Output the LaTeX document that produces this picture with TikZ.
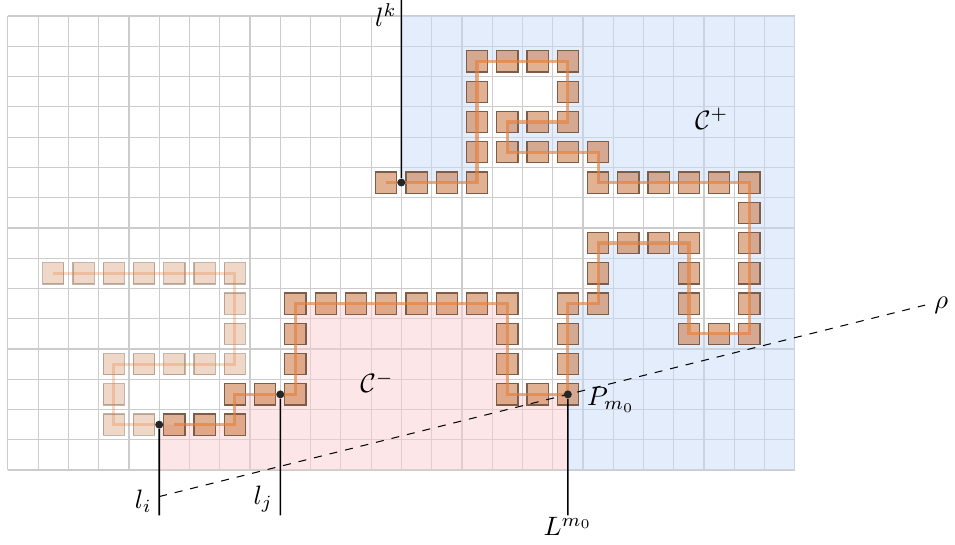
\documentclass[tikz,border=0pt]{standalone}
\usetikzlibrary{positioning, calc}

\definecolor{cellfill}{RGB}{205,125,75}
\definecolor{celledge}{RGB}{125,92,72}
\definecolor{chainline}{RGB}{228,128,60}
\definecolor{minusfill}{RGB}{251,205,209}
\definecolor{plusfill}{RGB}{199,219,249}

\begin{document}
\begin{tikzpicture}[
      scale=0.4,
      gridline/.style={draw=black!20, line width=0.45pt},
      region/.style={fill opacity=0.5},
      cell/.style={draw=celledge, fill=cellfill, fill opacity=0.6, line width=0.45pt},
      ghost/.style={cell, fill opacity=0.3, draw opacity=0.45},
      chain/.style={draw=chainline, line width=1.2pt, opacity=0.65},
      ghostchain/.style={chain, opacity=0.3},
      cut/.style={line width=0.6pt},
      vertex/.style={circle, fill=black!85, inner sep=0pt, minimum size=3pt}
    ]

    \path[use as bounding box] (-0.76,-2.95) rectangle (30.79,15.03);

    \draw[gridline, shift={(-0.5,-0.5)}] (0,0) grid (26,15);

    % the two sides of the cut
    \fill[region, minusfill] (4.5,-0.5) -- (4.5,1) -- (7,1) -- (7,2) -- (9,2) -- (9,5) -- (16,5)
      -- (16,2) -- (18,2) -- (18,-0.5) -- cycle;
    \fill[region, plusfill] (12.5,14.5) -- (12.5,9) -- (15,9) -- (15,13) -- (18,13) -- (18,11)
      -- (16,11) -- (16,10) -- (19,10) -- (19,9) -- (24,9) -- (24,4) -- (22,4) -- (22,7)
      -- (19,7) -- (19,5) -- (18,5) -- (18,-0.5) -- (25.5,-0.5) -- (25.5,14.5) -- cycle;

    % cells
    \foreach \y/\xs in {1/{5,6,7}, 2/{7,8,9,16,17,18}, 3/{9,16,18}, 4/{9,16,18,22,23,24},
        5/{9,10,11,12,13,14,15,16,18,19,22,24}, 6/{19,22,24}, 7/{19,20,21,22,24}, 8/{24},
        9/{12,13,14,15,19,20,21,22,23,24}, 10/{15,16,17,18,19}, 11/{15,16,17,18},
        12/{15,18}, 13/{15,16,17,18}}
      \foreach \x in \xs
        \draw[cell] (\x-0.35,\y-0.35) rectangle ++(0.7,0.7);
    \foreach \y/\xs in {1/{3,4}, 2/{3}, 3/{3,4,5,6,7}, 4/{7}, 5/{7}, 6/{1,2,3,4,5,6,7}}
      \foreach \x in \xs
        \draw[ghost] (\x-0.35,\y-0.35) rectangle ++(0.7,0.7);

    \draw[ghostchain] (1,6) -- (7,6) -- (7,3) -- (3,3) -- (3,1) -- (4.5,1);
    \draw[chain] (5,1) -- (7,1) -- (7,2) -- (9,2) -- (9,5) -- (16,5) -- (16,2) -- (18,2) -- (18,5)
      -- (19,5) -- (19,7) -- (22,7) -- (22,4) -- (24,4) -- (24,9) -- (19,9) -- (19,10) -- (16,10)
      -- (16,11) -- (18,11) -- (18,13) -- (15,13) -- (15,9) -- (12,9);

    \node (cminus) at (11.7,2.4) {$\mathcal{C}^-$};
    \node (cplus) at (22.75,11.1) {$\mathcal{C}^+$};

    \coordinate (rhostart) at (4.5,-1.375);
    \coordinate (rhoend) at (29.8,4.95);
    \draw[dashed, thin] (rhostart) -- (rhoend) node[right] (rholabel) {$\rho$};

    \node[vertex] (li) at (4.5,1) {};
    \node[vertex] (lj) at (8.5,2) {};
    \node[vertex] (P) at (18,2) {};
    \node[vertex] (lk) at (12.5,9) {};
    \coordinate (liend) at (4.5,-2);
    \coordinate (ljend) at (8.5,-2);
    \coordinate (Pend) at (18,-2);
    \coordinate (lkend) at (12.5,15.03);

    \draw[cut] (li) -- (liend) node[anchor=south east, inner xsep=2.5pt, inner ysep=1pt] (lilabel) {$l_i$};
    \draw[cut] (lj) -- (ljend) node[anchor=south east, inner xsep=2.5pt, inner ysep=1pt] (ljlabel) {$l_j$};
    \draw[cut] (P) -- (Pend) node[below, inner sep=0.5pt] (Llabel) {$L^{m_0}$};
    \draw[cut] (lk) -- (lkend) node[anchor=north east, inner xsep=1.5pt, inner ysep=1pt] (lklabel) {$l^k$};
    \node[right=0.07cm of P, yshift=-2pt] (Plabel) {$P_{m_0}$};

  \end{tikzpicture}
\end{document}
